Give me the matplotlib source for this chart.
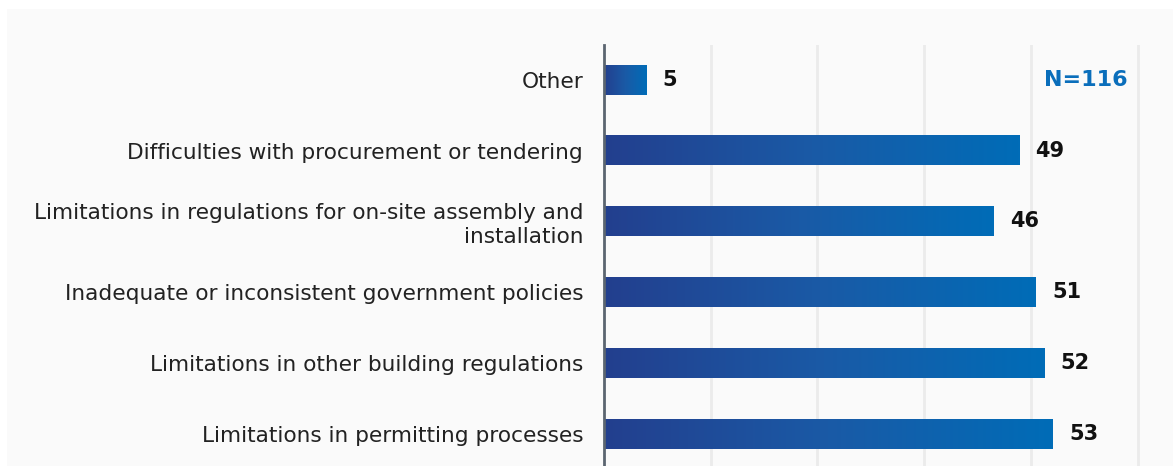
import numpy as np
import matplotlib.pyplot as plt
from matplotlib.patches import Rectangle
from matplotlib.colors import LinearSegmentedColormap

# Survey answers, top to bottom
categories = [
    "Other",
    "Difficulties with procurement or tendering",
    "Limitations in regulations for on-site assembly and\ninstallation",
    "Inadequate or inconsistent government policies",
    "Limitations in other building regulations",
    "Limitations in permitting processes",
]
counts = [5, 49, 46, 51, 52, 53]
grid_ticks = [12.6, 25.2, 37.8, 50.4, 63.0]
sample_note = "N=116"

W, H = 1173, 466
fig = plt.figure(figsize=(W / 100, H / 100), dpi=100)
fig.patch.set_facecolor("white")

# light panel behind the chart
fig.patches.append(Rectangle((7 / W, 0), 1 - 7 / W, 1 - 9 / H,
                             transform=fig.transFigure, facecolor="#fafafa",
                             edgecolor="none", zorder=-10))

ax = fig.add_axes([604 / W, 0, (1165 - 604) / W, 1 - 45 / H])
ax.set_facecolor("none")

ypos = np.arange(len(categories))
bars = ax.barh(ypos, counts, height=0.42, color="none", edgecolor="none")

xmax = (1165 - 604) / 8.47
cmap = LinearSegmentedColormap.from_list("bluegrad", ["#233f8e", "#1a5aa6", "#006cb7"])
grad = np.linspace(0, 1, 256).reshape(1, -1)
for b, v in zip(bars, counts):
    x0, y0 = b.get_x(), b.get_y()
    w, h = b.get_width(), b.get_height()
    ax.imshow(grad, cmap=cmap, extent=[x0, x0 + w, y0 + h, y0],
              aspect="auto", zorder=3, interpolation="nearest")
    ax.text(v + 1.9, y0 + h / 2, str(v), va="center", ha="left",
            fontsize=15, fontweight="bold", color="#111111", zorder=5)

ax.set_xlim(0, xmax)
ax.set_ylim(5.45, -0.49)

ax.set_xticks(grid_ticks)
ax.set_xticklabels([])
ax.tick_params(axis="x", length=0)
ax.grid(axis="x", color="#ebebeb", linewidth=2, zorder=0)
ax.set_axisbelow(True)

ax.set_yticks(ypos)
ax.set_yticklabels(categories, fontsize=15.6, color="#222222", linespacing=1.2)
ax.tick_params(axis="y", length=0, pad=15)

for side in ["top", "right", "bottom"]:
    ax.spines[side].set_visible(False)
ax.spines["left"].set_color("#5b6570")
ax.spines["left"].set_linewidth(2)
ax.spines["left"].set_zorder(6)

ax.text((1128 - 604) / 8.47, 0, sample_note, ha="right", va="center",
        fontsize=16, fontweight="heavy", color="#0a6ebb")

fig.savefig("out.png", dpi=100, facecolor=fig.get_facecolor())
